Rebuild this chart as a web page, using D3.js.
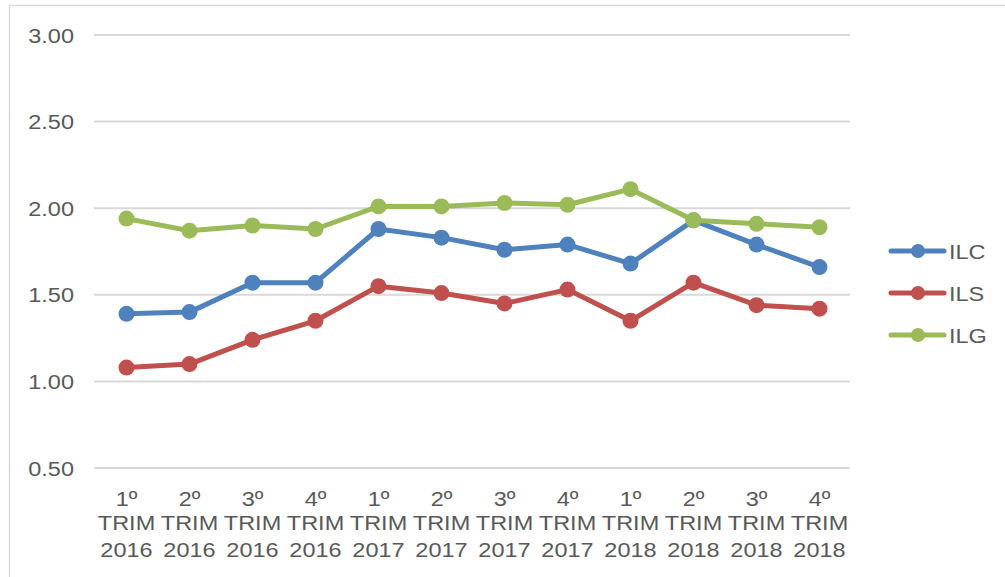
<!DOCTYPE html>
<html>
<head>
<meta charset="utf-8">
<script src="https://cdn.jsdelivr.net/npm/d3@7"></script>
<style>
  html, body { margin: 0; padding: 0; background: #fff; }
  svg { display: block; font-family: "Liberation Sans", Arial, sans-serif; }
</style>
</head>
<body>
<svg id="chart" width="1005" height="577"></svg>
<script>
// Quarter labels (three lines each)
const quarters = ["1º", "2º", "3º", "4º", "1º", "2º", "3º", "4º", "1º", "2º", "3º", "4º"];
const years = ["2016", "2016", "2016", "2016", "2017", "2017", "2017", "2017", "2018", "2018", "2018", "2018"];
const categories = quarters.map((q, i) => q + " TRIM " + years[i]);

// Index values per quarter
const ilc = [1.39, 1.40, 1.57, 1.57, 1.88, 1.83, 1.76, 1.79, 1.68, 1.93, 1.79, 1.66];
const ils = [1.08, 1.10, 1.24, 1.35, 1.55, 1.51, 1.45, 1.53, 1.35, 1.57, 1.44, 1.42];
const ilg = [1.94, 1.87, 1.90, 1.88, 2.01, 2.01, 2.03, 2.02, 2.11, 1.93, 1.91, 1.89];

const seriesNames = ["ILC", "ILS", "ILG"];
const seriesColors = ["#4f81bd", "#c0504d", "#9bbb59"];
const yTicks = [0.5, 1.0, 1.5, 2.0, 2.5, 3.0];

const series = [ilc, ils, ilg].map((values, i) => ({ name: seriesNames[i], color: seriesColors[i], values }));

const svg = d3.select("#chart");
const textColor = "#595959";
const gridColor = "#d9d9d9";
const stretch = "scale(1.12,1)";

// Chart frame
svg.append("rect")
  .attr("x", 9.5).attr("y", 5.5)
  .attr("width", 1010).attr("height", 600)
  .attr("fill", "none")
  .attr("stroke", gridColor)
  .attr("stroke-width", 1.5);

const plot = { left: 95, right: 851, top: 35, bottom: 468 };

const x = d3.scaleBand().domain(categories).range([plot.left, plot.right]);
const y = d3.scaleLinear().domain([0.5, 3.0]).range([plot.bottom, plot.top]);

// Gridlines and y labels
const yAxis = svg.append("g");
yTicks.forEach(t => {
  yAxis.append("line")
    .attr("x1", plot.left - 1).attr("x2", plot.right - 1)
    .attr("y1", y(t)).attr("y2", y(t))
    .attr("stroke", gridColor).attr("stroke-width", 2);
  yAxis.append("g")
    .attr("transform", `translate(74,${y(t) + 7.5})`)
    .append("text")
    .attr("transform", stretch)
    .attr("text-anchor", "end")
    .attr("font-size", 21)
    .attr("fill", textColor)
    .text(d3.format(".2f")(t));
});

// Category labels
const xAxis = svg.append("g");
categories.forEach((c, i) => {
  const cx = x(c) + x.bandwidth() / 2;
  [[quarters[i], 506], ["TRIM", 530], [years[i], 557]].forEach(([s, by]) => {
    xAxis.append("g")
      .attr("transform", `translate(${cx},${by})`)
      .append("text")
      .attr("transform", stretch)
      .attr("text-anchor", "middle")
      .attr("font-size", 21)
      .attr("fill", textColor)
      .text(s);
  });
});

// Series lines and markers
const line = d3.line()
  .x((d, i) => x(categories[i]) + x.bandwidth() / 2)
  .y(d => y(d));

series.forEach(s => {
  svg.append("path")
    .datum(s.values)
    .attr("d", line)
    .attr("fill", "none")
    .attr("stroke", s.color)
    .attr("stroke-width", 5)
    .attr("stroke-linejoin", "round")
    .attr("stroke-linecap", "round");
  svg.append("g").selectAll("circle")
    .data(s.values)
    .join("circle")
    .attr("cx", (d, i) => x(categories[i]) + x.bandwidth() / 2)
    .attr("cy", d => y(d))
    .attr("r", 8)
    .attr("fill", s.color);
});

// Legend
const legend = svg.append("g");
series.forEach((s, i) => {
  const ly = 251 + i * 42;
  legend.append("line")
    .attr("x1", 891).attr("x2", 944)
    .attr("y1", ly).attr("y2", ly)
    .attr("stroke", s.color).attr("stroke-width", 5)
    .attr("stroke-linecap", "round");
  legend.append("circle")
    .attr("cx", 918).attr("cy", ly).attr("r", 7)
    .attr("fill", s.color);
  legend.append("g")
    .attr("transform", `translate(949,${ly + 7.5})`)
    .append("text")
    .attr("transform", stretch)
    .attr("font-size", 21)
    .attr("fill", textColor)
    .text(s.name);
});
</script>
</body>
</html>
